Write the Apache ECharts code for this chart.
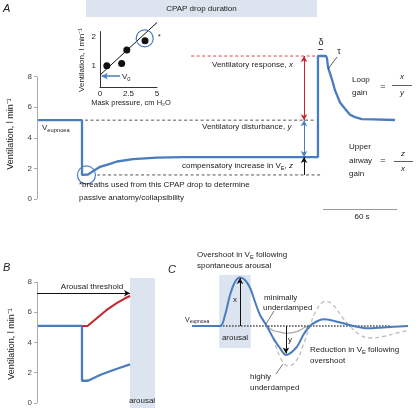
<!DOCTYPE html>
<html><head><meta charset="utf-8">
<script src="https://cdn.jsdelivr.net/npm/echarts@6/dist/echarts.min.js"></script>
<style>html,body{margin:0;padding:0;background:#fff}#c{width:419px;height:408px}</style>
</head><body><div id="c"></div>
<script>
// ---------- Panel A: ventilation during a CPAP drop (time in s, l/min) ----------
const aTime = [0, 36.5, 36.5, 41.4, 47, 51.1, 59.2, 64.9, 77.8, 97.3, 118.4, 227.8, 227.8, 234.3, 235.1, 236, 239.2, 241.6, 245.7, 249.7, 253.8, 257.8, 263.5, 272.4, 274, 290.3];
const aVent = [5.15, 5.15, 1.57, 1.6, 1.9, 2.1, 2.3, 2.45, 2.6, 2.7, 2.74, 2.74, 9.34, 9.34, 9.2, 8.6, 7.8, 7.1, 6.3, 5.9, 5.5, 5.35, 5.22, 5.2, 5.16, 5.16];
const aEupnoea = 5.15, aTrough = 1.57, aCompensated = 2.74, aPeak = 9.34;
const aCpapStart = 39.7, aCpapEnd = 227;
const aArrowTime = 216.5;
const aTicks = [0, 2, 4, 6, 8];
// inset: ventilation vs mask pressure
const maskPressure = [0.6, 1.9, 2.35, 3.95, 4.95];
const insetVent = [1.0, 1.08, 1.55, 1.88, 2.35];
const fitX = [0, 5], fitY = [0.67, 2.52];
const insetXTicks = [0, 2.5, 5], insetYTicks = [1, 2];
// ---------- Panel B ----------
const bTime = [0, 36.6, 36.6, 41.5, 51.3, 59.4, 67.5, 75.7];
const bVentLow = [5.09, 5.09, 1.47, 1.47, 1.85, 2.1, 2.33, 2.55];
const bRiseTime = [36.8, 41.1, 48.6, 56.7, 64.8, 71.6, 75.7];
const bRiseVent = [5.09, 5.09, 5.6, 6.15, 6.6, 6.92, 7.07];
const arousalThreshold = 7.25, bArousalStart = 75.7, bArousalEnd = 96;
// ---------- Panel C (relative ventilation, arbitrary time) ----------
const cTime = [0, 13, 15.3, 17.6, 19.9, 22.2, 24.5, 26.9, 29.2, 31.5, 34.6, 37.6, 40.7, 43.5, 48.5, 51.5, 54.6, 57.7, 60.8, 65.4, 70, 74.7, 80.9, 87, 93.2, 100];
const cBlue = [0, 0, 1.1, 3.1, 4.4, 4.85, 4.6, 3.8, 2.4, 1.1, 0, -1.2, -2.2, -2.9, -2.1, -0.9, 0, 0.45, 0.67, 0.53, 0.27, 0, -0.23, -0.17, -0.07, 0];
const cHighTime = [34.6, 37.6, 41.5, 44.6, 48.5, 51.5, 54.6, 56.9, 60, 62.4, 65.4, 69.3, 73.1, 77.8, 82.4, 88.6, 94.8, 100];
const cHigh = [0, -1.3, -3.4, -4.0, -3.4, -1.9, 0, 1.3, 2.3, 2.45, 2.1, 0.95, 0, -0.9, -1.2, -1.05, -0.7, -0.45];
const cMinTime = [34.6, 37.6, 41.5, 43.5, 48.5, 52.2, 54.6];
const cMin = [0, -0.45, -0.65, -0.73, -0.57, -0.15, 0];
const cPeakTime = 22.2, cPeakVal = 4.8, cTroughTime = 43.5, cTroughVal = -2.75;
const cArousalStart = 12.6, cArousalEnd = 27.2;

const zip = (xs, ys) => xs.map((x, i) => [x, ys[i]]);
const FONT = '"Liberation Sans", Arial, sans-serif';
const BLUE = '#4a7cc0', RED = '#c2272d', BAND = '#dce4ef', INK = '#222';

const chart = echarts.init(document.getElementById('c'), null, {renderer: 'canvas'});

const rich = (fs) => ({
  n: {fontSize: fs, fontFamily: FONT, fill: INK},
  i: {fontSize: fs, fontFamily: FONT, fill: INK, fontStyle: 'italic'},
  s: {fontSize: fs * 0.72, fontFamily: FONT, fill: INK, verticalAlign: 'bottom', padding: [4, 0, 0, 0]}
});
function T(x, y, text, o) {
  o = o || {};
  const fs = o.fs || 8;
  return {
    type: 'text', x: x, y: y, silent: true, rotation: o.rot || 0, z: 100,
    style: {
      text: text, fontSize: fs, fontFamily: FONT, fill: INK,
      fontStyle: o.italic ? 'italic' : 'normal',
      align: o.align || 'left', verticalAlign: 'middle',
      textAlign: o.align || 'left', textVerticalAlign: 'middle',
      rich: rich(fs)
    }
  };
}
function L(x1, y1, x2, y2, c, w) {
  return {type: 'line', silent: true, z: 100, shape: {x1, y1, x2, y2}, style: {stroke: c || '#333', lineWidth: w || 1}};
}
function arrow(x1, y1, x2, y2, color, both, w) {
  const ls = {color: color, width: w || 1, type: 'solid'};
  return [
    {coord: [x1, y1], symbol: both ? 'arrow' : 'none', symbolSize: [5, 6], lineStyle: ls},
    {coord: [x2, y2], symbol: 'arrow', symbolSize: [5, 6], lineStyle: ls}
  ];
}
function seg(x1, y1, x2, y2, color, w) {
  const ls = {color: color, width: w || 1, type: 'solid'};
  return [{coord: [x1, y1], symbol: 'none', lineStyle: ls}, {coord: [x2, y2], symbol: 'none', lineStyle: ls}];
}
const mlBase = {silent: true, animation: false, label: {show: false}, emphasis: {disabled: true}, symbol: ['none', 'none']};

const hiddenX = (g, max) => ({gridIndex: g, type: 'value', min: 0, max: max, show: false});
const tickAxisY = (g, min, max, ticks) => ({
  gridIndex: g, type: 'value', min: min, max: max,
  axisLine: {show: false}, splitLine: {show: false},
  axisTick: {show: true, customValues: ticks, length: 3, lineStyle: {color: '#aaa'}},
  axisLabel: {show: true, customValues: ticks, fontSize: 8, fontFamily: FONT, color: '#444', margin: 5}
});

const option = {
  animation: false,
  backgroundColor: '#fff',
  grid: [
    {left: 37, top: 0, width: 370, height: 214.3},
    {left: 100, top: 31.6, width: 57, height: 55.4},
    {left: 37, top: 278, width: 118, height: 130},
    {left: 192, top: 261, width: 216, height: 125}
  ],
  xAxis: [
    hiddenX(0, 300),
    {gridIndex: 1, type: 'value', min: 0, max: 5, interval: 2.5, splitLine: {show: false},
     axisLine: {show: true, lineStyle: {color: '#333'}}, axisTick: {show: false},
     axisLabel: {fontSize: 8, fontFamily: FONT, color: INK, margin: 3, customValues: insetXTicks}},
    hiddenX(2, 96),
    hiddenX(3, 100)
  ],
  yAxis: [
    tickAxisY(0, -1, 13, aTicks),
    {gridIndex: 1, type: 'value', min: 0.25, max: 2.2, splitLine: {show: false},
     axisLine: {show: true, lineStyle: {color: '#333'}}, axisTick: {show: false},
     axisLabel: {fontSize: 8, fontFamily: FONT, color: INK, margin: 4, customValues: insetYTicks}},
    tickAxisY(2, -0.33, 8.26, aTicks),
    {gridIndex: 3, type: 'value', min: -6, max: 6.5, show: false}
  ],
  series: [
    // ---- Panel A ----
    {type: 'line', xAxisIndex: 0, yAxisIndex: 0, data: zip(aTime, aVent), symbol: 'none', clip: false, z: 3,
     lineStyle: {color: BLUE, width: 2.3},
     markArea: {silent: true, itemStyle: {color: BAND},
       label: {show: true, position: 'inside', fontSize: 8, fontFamily: FONT, color: INK},
       data: [[{name: 'CPAP drop duration', coord: [aCpapStart, 13]}, {coord: [aCpapEnd, 11.89]}]]},
     markLine: Object.assign({}, mlBase, {data: [
       seg(0, 0, 0, 8, '#aaa', 1),
       arrow(aArrowTime, aEupnoea, aArrowTime, aPeak, RED, true, 1),
       arrow(aArrowTime, aEupnoea, aArrowTime, aCompensated, BLUE, true, 1),
       arrow(aArrowTime, aTrough, aArrowTime, aCompensated, '#111', false, 1),
       seg(227.8, 9.8, 231.8, 9.8, '#444', 1),
       seg(232, -0.65, 292, -0.65, '#999', 1)
     ]})},
    {type: 'line', xAxisIndex: 0, yAxisIndex: 0, data: [[39, aEupnoea], [225.5, aEupnoea]], symbol: 'none', z: 2,
     lineStyle: {color: '#555', width: 1, type: [3, 2.5]}},
    {type: 'line', xAxisIndex: 0, yAxisIndex: 0, data: [[48.7, aTrough], [231, aTrough]], symbol: 'none', z: 2,
     lineStyle: {color: '#555', width: 1, type: [3, 2.5]}},
    {type: 'line', xAxisIndex: 0, yAxisIndex: 0, data: [[125, aPeak], [227.8, aPeak]], symbol: 'none', z: 2,
     lineStyle: {color: '#d5454a', width: 1, type: [3, 2.5]}},
    {type: 'scatter', xAxisIndex: 0, yAxisIndex: 0, data: [[40.1, aTrough]], symbolSize: 18, z: 4,
     itemStyle: {color: 'rgba(0,0,0,0)', borderColor: BLUE, borderWidth: 1.2, opacity: 1}},
    // ---- inset ----
    {type: 'line', xAxisIndex: 1, yAxisIndex: 1, data: zip(fitX, fitY), symbol: 'none', clip: false, z: 3,
     lineStyle: {color: '#111', width: 1},
     markLine: Object.assign({}, mlBase, {data: [arrow(1.75, 0.63, 0.15, 0.63, BLUE, false, 1.5)]})},
    {type: 'scatter', xAxisIndex: 1, yAxisIndex: 1, data: zip(maskPressure, insetVent), symbolSize: 7, z: 4,
     itemStyle: {color: '#111', opacity: 1}},
    {type: 'scatter', xAxisIndex: 1, yAxisIndex: 1, data: [[3.92, 1.96]], symbolSize: 17, z: 4,
     itemStyle: {color: 'rgba(0,0,0,0)', borderColor: BLUE, borderWidth: 1.2, opacity: 1}},
    // ---- Panel B ----
    {type: 'line', xAxisIndex: 2, yAxisIndex: 2, data: zip(bTime, bVentLow), symbol: 'none', z: 3,
     lineStyle: {color: BLUE, width: 2.3},
     markArea: {silent: true, itemStyle: {color: BAND}, label: {show: false},
       data: [[{coord: [bArousalStart, -0.33]}, {coord: [bArousalEnd, 8.26]}]]},
     markLine: Object.assign({}, mlBase, {data: [
       seg(0, 0, 0, 8, '#aaa', 1),
       arrow(0, arousalThreshold, bArousalStart, arousalThreshold, '#111', false, 1)
     ]})},
    {type: 'line', xAxisIndex: 2, yAxisIndex: 2, data: zip(bRiseTime, bRiseVent), symbol: 'none', z: 3,
     lineStyle: {color: RED, width: 2}},
    // ---- Panel C ----
    {type: 'line', xAxisIndex: 3, yAxisIndex: 3, data: zip(cMinTime, cMin), symbol: 'none', smooth: 0.4, z: 2,
     lineStyle: {color: '#a9a9a9', width: 1.3}},
    {type: 'line', xAxisIndex: 3, yAxisIndex: 3, data: zip(cHighTime, cHigh), symbol: 'none', smooth: 0.4, z: 2,
     lineStyle: {color: '#bdbdbd', width: 1.3, type: [4, 3]}},
    {type: 'line', xAxisIndex: 3, yAxisIndex: 3, data: [[13, 0], [92, 0]], symbol: 'none', z: 3,
     lineStyle: {color: '#444', width: 1.4, type: [1.5, 1.5]}},
    {type: 'line', xAxisIndex: 3, yAxisIndex: 3, data: zip(cTime, cBlue), symbol: 'none', smooth: 0.3, z: 4,
     lineStyle: {color: BLUE, width: 2},
     markArea: {silent: true, itemStyle: {color: BAND}, label: {show: false},
       data: [[{coord: [cArousalStart, 5.1]}, {coord: [cArousalEnd, -2.2]}]]},
     markLine: Object.assign({}, mlBase, {data: [
       arrow(cPeakTime, 0, cPeakTime, cPeakVal, '#111', false, 1),
       arrow(cTroughTime, 0, cTroughTime, cTroughVal, '#111', false, 1)
     ]})}
  ],
  graphic: [
    // Panel A
    T(3, 9, 'A', {fs: 11, italic: true}),
    T(11, 134, 'Ventilation, l min⁻¹', {fs: 9, align: 'center', rot: Math.PI / 2}),
    T(42, 128, 'V{s|eupnoea}'),
    T(212, 65, 'Ventilatory response, {i|x}'),
    T(202, 127, 'Ventilatory disturbance, {i|y}'),
    T(182, 166, 'compensatory increase in V{s|E}, {i|z}'),
    T(79, 185, '*breaths used from this CPAP drop to determine'),
    T(79, 198, 'passive anatomy/collapsibility'),
    T(321, 43, 'δ', {fs: 9, align: 'center'}),
    T(339, 52, 'τ', {fs: 9, align: 'center'}),
    L(328, 69, 337, 57, '#333', 0.8),
    T(352, 80, 'Loop'), T(352, 93, 'gain'),
    T(383, 87, '=', {fs: 9, align: 'center'}),
    T(402, 77, 'x', {italic: true, align: 'center'}),
    L(392, 85.5, 412, 85.5, '#333', 0.8),
    T(402, 93, 'y', {italic: true, align: 'center'}),
    T(349, 147, 'Upper'), T(349, 161, 'airway'), T(349, 174, 'gain'),
    T(383, 161, '=', {fs: 9, align: 'center'}),
    T(403, 154, 'z', {italic: true, align: 'center'}),
    L(394, 161.5, 413, 161.5, '#333', 0.8),
    T(403, 169, 'x', {italic: true, align: 'center'}),
    T(362, 217, '60 s', {align: 'center'}),
    // inset
    T(82, 60, 'Ventilation, l min⁻¹', {fs: 8, align: 'center', rot: Math.PI / 2}),
    T(131, 103, 'Mask pressure, cm H₂O', {fs: 7.5, align: 'center'}),
    T(122, 77, 'V{s|0}'),
    T(158, 37, '*', {fs: 7}),
    // Panel B
    T(3, 268, 'B', {fs: 11, italic: true}),
    T(12, 344, 'Ventilation, l min⁻¹', {fs: 9, align: 'center', rot: Math.PI / 2}),
    T(92, 287, 'Arousal threshold', {align: 'center'}),
    T(142, 401, 'arousal', {align: 'center'}),
    // Panel C
    T(168, 270, 'C', {fs: 11, italic: true}),
    T(197, 255, 'Overshoot in V{s|E} following'),
    T(197, 266, 'spontaneous arousal'),
    T(185, 320, 'V{s|eupnoea}', {fs: 7}),
    T(235, 300, 'x', {align: 'center'}),
    T(235, 338, 'arousal', {align: 'center'}),
    T(264, 298, 'minimally'), T(263, 308, 'underdamped'),
    L(274, 311, 266, 324, '#555', 0.8),
    T(290, 340, 'y', {align: 'center'}),
    T(310, 350, 'Reduction in V{s|E} following'),
    T(310, 361, 'overshoot'),
    T(250, 377, 'highly'), T(250, 388, 'underdamped'),
    L(276, 374, 283, 364, '#555', 0.8)
  ]
};
chart.setOption(option);
</script></body></html>
